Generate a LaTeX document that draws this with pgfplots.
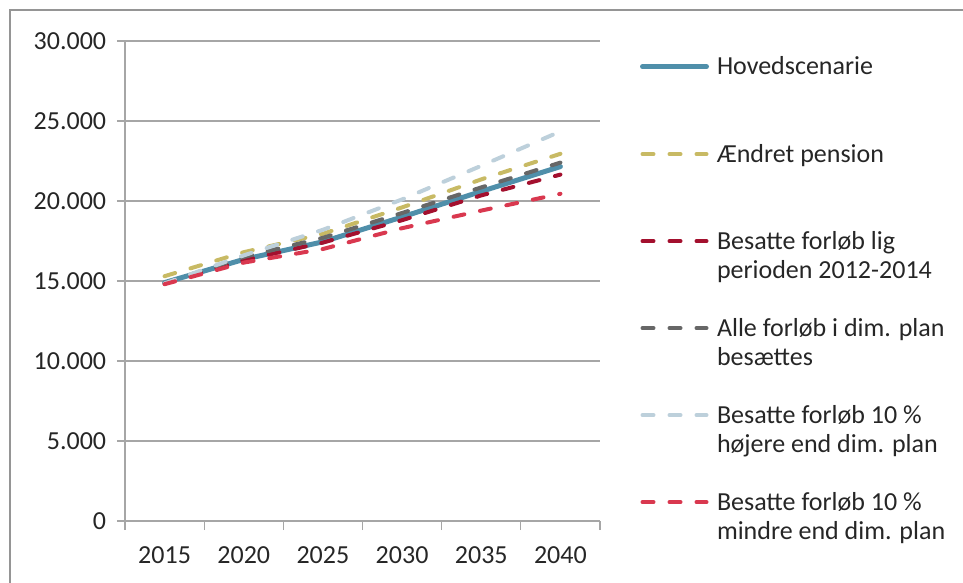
\documentclass[border=0pt]{standalone}
\usepackage{pgfplots}
\pgfplotsset{compat=1.18}
\usepackage{fontspec}
\setmainfont{Carlito}
\definecolor{cblue}{HTML}{4F8FAA}
\definecolor{cgold}{HTML}{C8BA64}
\definecolor{cdred}{HTML}{A3102E}
\definecolor{cgray}{HTML}{676767}
\definecolor{clblue}{HTML}{BDD0DB}
\definecolor{cred}{HTML}{D9384F}
\definecolor{cgrid}{HTML}{A6A6A6}
\definecolor{ctext}{HTML}{262626}
\newcommand{\two}[2]{\begin{tabular}[t]{@{}l@{}}#1\\#2\end{tabular}}
\begin{document}
\fontsize{26}{29}\selectfont
\begin{tikzpicture}[x=1pt,y=1pt]
\begin{axis}[
  at={(0,0)}, anchor=south west,
  width=475pt, height=480pt, scale only axis,
  xmin=-0.5, xmax=5.5, ymin=0, ymax=30000,
  scaled y ticks=false,
  axis lines=left,
  axis line style={cgrid, line width=1.2pt, -},
  xtick={0,...,5},
  xticklabels={2015,2020,2025,2030,2035,2040},
  minor xtick={-0.5,0.5,1.5,2.5,3.5,4.5,5.5},
  ytick={0,5000,10000,15000,20000,25000,30000},
  yticklabels={0,5.000,10.000,15.000,20.000,25.000,30.000},
  tick align=outside,
  major tick length=8pt,
  minor tick length=9pt,
  every tick/.style={cgrid, line width=1.2pt},
  major x tick style={draw=none},
  ymajorgrids,
  grid style={cgrid, line width=1.2pt},
  ticklabel style={font=\fontsize{26}{29}\selectfont, text=ctext},
  xticklabel style={yshift=-9pt},
  yticklabel style={xshift=-2pt},
  legend style={at={(1.08,0.981)}, anchor=north west, draw=none, fill=none,
    inner sep=0pt, outer sep=0pt, row sep=0pt, column sep=8pt,
    font=\fontsize{26}{29}\selectfont, text=ctext,
    nodes={inner sep=0pt, outer sep=0pt, anchor=base west}},
  legend cell align=left,
  legend image code/.code={\draw[#1, line cap=round] (2pt,8pt) -- (66pt,8pt); \path (0pt,22pt) (0pt,-61pt);},
]
\addplot[cblue, line width=5pt, line cap=round, line join=round] coordinates {(0,14900) (1,16350) (2,17450) (3,19000) (4,20600) (5,22150)};
\addlegendentry{Hovedscenarie}
\addplot[cgold, line width=4pt, line cap=round, dash pattern=on 11pt off 16pt] coordinates {(0,15300) (1,16800) (2,17950) (3,19600) (4,21350) (5,22950)};
\addlegendentry{Ændret pension}
\addplot[cdred, line width=4pt, line cap=round, dash pattern=on 11pt off 16pt] coordinates {(0,14850) (1,16300) (2,17400) (3,18800) (4,20350) (5,21650)};
\addlegendentry{\two{Besatte forløb lig}{perioden 2012-2014}}
\addplot[cgray, line width=4pt, line cap=round, dash pattern=on 11pt off 16pt] coordinates {(0,14850) (1,16500) (2,17700) (3,19250) (4,20850) (5,22400)};
\addlegendentry{\two{Alle forløb i dim. plan}{besættes}}
\addplot[clblue, line width=4pt, line cap=round, dash pattern=on 11pt off 16pt] coordinates {(0,14850) (1,16600) (2,18200) (3,20100) (4,22200) (5,24350)};
\addlegendentry{\two{Besatte forløb 10 \%}{højere end dim. plan}}
\addplot[cred, line width=4pt, line cap=round, dash pattern=on 11pt off 16pt] coordinates {(0,14800) (1,16150) (2,17000) (3,18300) (4,19400) (5,20450)};
\addlegendentry{\two{Besatte forløb 10 \%}{mindre end dim. plan}}
\end{axis}
\draw[color=cgrid!90!black, line width=2pt] (-115,-70) -- (-115,511) -- (850,511);
\pgfresetboundingbox
\useasboundingbox (-125,-61) rectangle (838,521);
\end{tikzpicture}
\end{document}
